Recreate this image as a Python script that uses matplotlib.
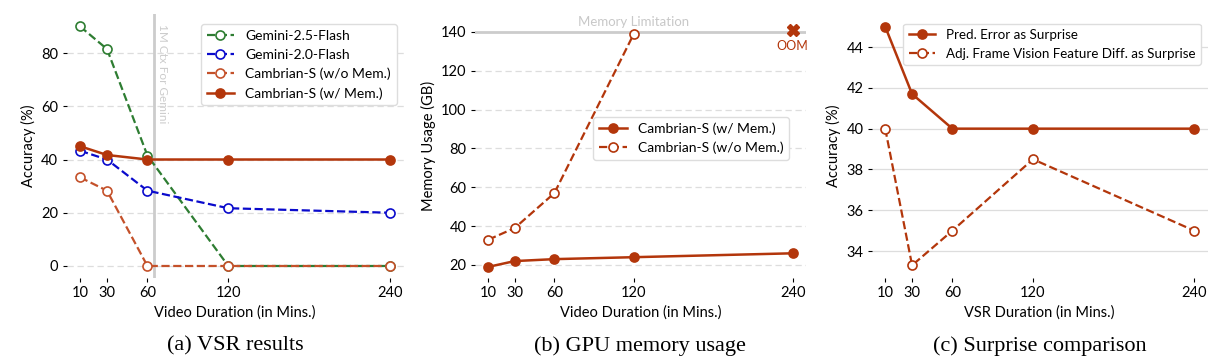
import numpy as np
import matplotlib
matplotlib.use('Agg')
import matplotlib.pyplot as plt

plt.rcParams['font.family'] = ['Lato', 'DejaVu Sans']

durations = [10, 30, 60, 120, 240]

# (a) VSR results
gem25 = [90, 81.5, 41.5, 0, 0]
gem20 = [43.3, 40, 28.3, 21.7, 20]
camb_nomem = [33.3, 28.3, 0, 0, 0]
camb_mem = [45, 41.7, 40, 40, 40]

# (b) GPU memory
mem_with = [19, 22, 23, 24, 26]
mem_without_x = [10, 30, 60, 120]
mem_without = [33, 39, 57, 139]
mem_limit = 140

# (c) surprise comparison
pred_err = [45, 41.7, 40, 40, 40]
adj_frame = [40, 33.3, 35, 38.5, 35]

RED = '#b3360b'
ORANGE = '#c4512a'
GREEN = '#2e7d32'
BLUE = '#0a0acc'

fig = plt.figure(figsize=(12.21, 3.61), dpi=100)
axa = fig.add_axes([0.0545, 0.23, 0.276, 0.73])
axb = fig.add_axes([0.389, 0.23, 0.271, 0.73])
axc = fig.add_axes([0.714, 0.23, 0.275, 0.73])

def style(ax, dashed=True):
    for s in ax.spines.values():
        s.set_visible(False)
    ax.grid(axis='y', color='#dddddd', lw=0.9, ls=(0, (5, 3)) if dashed else '-')
    ax.set_axisbelow(True)
    ax.set_xticks(durations)
    ax.tick_params(labelsize=10.5, length=3, width=0.8, pad=3)
    ax.set_xlim(0, 250)

mk = dict(ms=6.5, mew=1.2)
# panel a
style(axa)
axa.axvline(65, color='#cccccc', lw=2, zorder=1)
axa.text(67, 91, '1M Ctx For Gemini', rotation=270, va='top', ha='left', color='#cccccc', fontsize=8.5)
axa.plot(durations, gem25, ls='--', color=GREEN, marker='o', mfc='white', lw=1.6, label='Gemini-2.5-Flash', **mk)
axa.plot(durations, gem20, ls='--', color=BLUE, marker='o', mfc='white', lw=1.6, label='Gemini-2.0-Flash', **mk)
axa.plot(durations, camb_nomem, ls='--', color=ORANGE, marker='o', mfc='white', lw=1.6, label='Cambrian-S (w/o Mem.)', **mk)
axa.plot(durations, camb_mem, ls='-', color=RED, marker='o', lw=1.8, label='Cambrian-S (w/ Mem.)', **mk)
axa.set_ylim(-4.5, 94.5)
axa.set_yticks([0, 20, 40, 60, 80])
axa.set_ylabel('Accuracy (%)', fontsize=10.5)
axa.set_xlabel('Video Duration (in Mins.)', fontsize=10.5)
axa.legend(loc='upper right', fontsize=10, bbox_to_anchor=(1.0, 0.99), framealpha=1, edgecolor='#dddddd')

# panel b
style(axb)
axb.axhline(mem_limit, color='#cccccc', lw=2, zorder=1)
axb.text(120, 142, 'Memory Limitation', ha='center', va='bottom', color='#c8c8c8', fontsize=9.5)
axb.plot(durations, mem_with, ls='-', color=RED, marker='o', lw=1.8, label='Cambrian-S (w/ Mem.)', **mk)
axb.plot(mem_without_x, mem_without, ls='--', color=RED, marker='o', mfc='white', lw=1.6, label='Cambrian-S (w/o Mem.)', **mk)
axb.plot([240], [141], marker='X', color=RED, ms=8, ls='none')
axb.text(240, 132.5, 'OOM', ha='center', va='center', color=RED, fontsize=9)
axb.set_ylim(13.3, 149)
axb.set_yticks([20, 40, 60, 80, 100, 120, 140])
axb.set_ylabel('Memory Usage (GB)', fontsize=10.5)
axb.set_xlabel('Video Duration (in Mins.)', fontsize=10.5)
axb.legend(loc='center right', fontsize=10, bbox_to_anchor=(0.97, 0.53), framealpha=1, edgecolor='#dddddd')

# panel c
style(axc, dashed=False)
axc.plot(durations, pred_err, ls='-', color=RED, marker='o', lw=1.8, label='Pred. Error as Surprise', **mk)
axc.plot(durations, adj_frame, ls='--', color=RED, marker='o', mfc='white', lw=1.6, label='Adj. Frame Vision Feature Diff. as Surprise', **mk)
axc.set_ylim(32.68, 45.6)
axc.set_yticks([34, 36, 38, 40, 42, 44])
axc.set_ylabel('Accuracy (%)', fontsize=10.5)
axc.set_xlabel('VSR Duration (in Mins.)', fontsize=10.5)
axc.legend(loc='upper right', fontsize=9.6, bbox_to_anchor=(1.0, 0.99), framealpha=1, edgecolor='#dddddd')

for ax, cap in [(axa, '(a) VSR results'), (axb, '(b) GPU memory usage'), (axc, '(c) Surprise comparison')]:
    pos = ax.get_position()
    fig.text((pos.x0 + pos.x1) / 2, 0.042, cap, ha='center', va='center',
             fontsize=16, family=['Liberation Serif', 'DejaVu Serif'])

plt.savefig('out.png', dpi=100, facecolor='white')
